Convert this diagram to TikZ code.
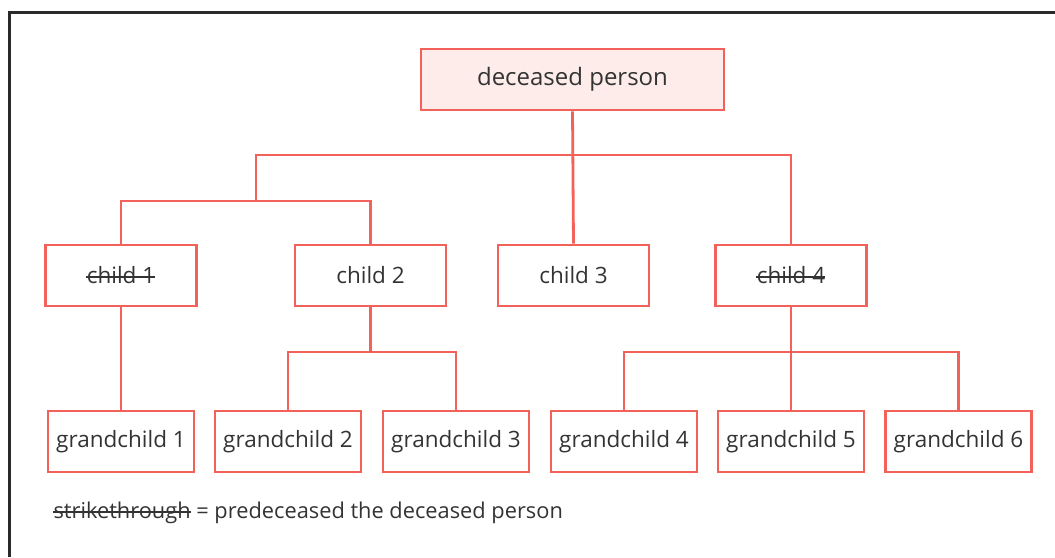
\documentclass[tikz,border=0pt]{standalone}
\usepackage{fontspec}
\setmainfont{Open Sans}
\definecolor{boxred}{HTML}{F2625A}
\definecolor{boxpink}{HTML}{FDECEA}
\definecolor{ink}{HTML}{333333}
\definecolor{frame}{HTML}{2A2A2A}
% strikethrough without ulem
\newcommand\strikeout[1]{\leavevmode\setbox0=\hbox{#1}%
  \rlap{\kern-1pt\vrule height .34em depth -.25em width \dimexpr\wd0+1pt\relax}\box0\relax}
\tikzset{
  person/.style={draw=boxred,line width=2.8pt,inner sep=0pt,minimum height=61pt,
    text=ink,font=\fontsize{22.5}{26}\selectfont},
  kid/.style={person,minimum width=151pt},
  grandkid/.style={person,minimum width=146pt},
  link/.style={draw=boxred,line width=2.8pt}
}
\begin{document}
\begin{tikzpicture}[x=1pt,y=-1pt]
  \useasboundingbox (0,0) rectangle (1055,557);
  \draw[frame,line width=3pt] (9,557) -- (9,12) -- (1055,12);
  % the deceased and the children
  \node[person,fill=boxpink,minimum width=303pt,font=\fontsize{24}{28}\selectfont] (dp) at (572.5,79.5) {deceased person};
  \node[kid] (c1) at (121,275.5) {\strikeout{child 1}};
  \node[kid] (c2) at (370.5,275.5) {child 2};
  \node[kid] (c3) at (573.5,275.5) {child 3};
  \node[kid] (c4) at (791,275.5) {\strikeout{child 4}};
  % grandchildren
  \node[grandkid] (g1) at (121,441.5) {grandchild 1};
  \node[grandkid] (g2) at (288,441.5) {grandchild 2};
  \node[grandkid] (g3) at (456,441.5) {grandchild 3};
  \node[grandkid] (g4) at (624,441.5) {grandchild 4};
  \node[grandkid] (g5) at (791,441.5) {grandchild 5};
  \node[grandkid] (g6) at (958.5,441.5) {grandchild 6};
  \node[anchor=west,text=ink,font=\fontsize{21.8}{26}\selectfont] (key) at (50,513)
    {\strikeout{strikethrough} = predeceased the deceased person};
  % connectors
  \coordinate (l1) at (256,201);
  \coordinate (h1) at (256,155);
  \coordinate (h2) at (791,155);
  \coordinate (m2) at (370.5,352);
  \coordinate (m4) at (791,352);
  \draw[link] (dp.south) -- (c3.north);
  \draw[link] (c1.north) |- (l1) -| (c2.north);
  \draw[link] (l1) -- (h1) -- (h2) -- (c4.north);
  \draw[link] (c1.south) -- (g1.north);
  \draw[link] (c2.south) -- (m2);
  \draw[link] (g2.north) |- (m2) -| (g3.north);
  \draw[link] (c4.south) -- (g5.north);
  \draw[link] (g4.north) |- (m4) -| (g6.north);
\end{tikzpicture}
\end{document}
